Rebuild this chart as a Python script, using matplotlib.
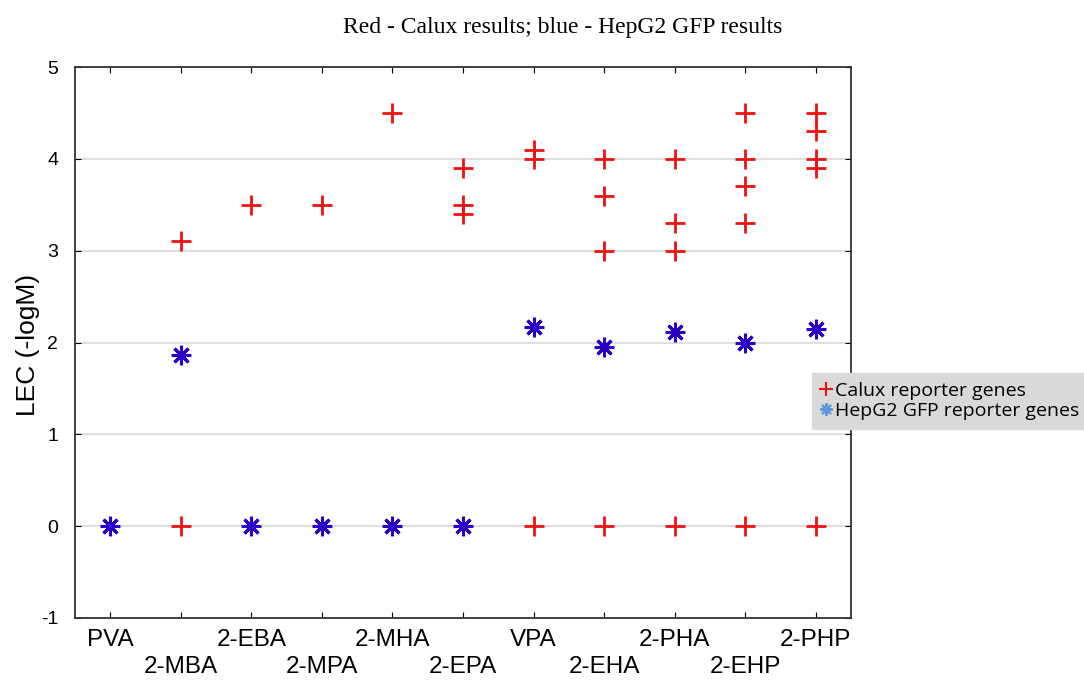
import numpy as np
import matplotlib
matplotlib.use("Agg")
import matplotlib.pyplot as plt
from matplotlib.lines import Line2D

plt.rcParams['axes.unicode_minus'] = False

#=========================================================================================
compounds = ['PVA', '2-MBA', '2-EBA', '2-MPA', '2-MHA', '2-EPA',
             'VPA', '2-EHA', '2-PHA', '2-EHP', '2-PHP']

# Calux results (red), one list per compound
calux = [
    [],
    [3.1, 0],
    [3.5],
    [3.5],
    [4.5],
    [3.9, 3.5, 3.4],
    [4.1, 4.0, 0],
    [4.0, 3.6, 3.0, 0],
    [4.0, 3.3, 3.0, 0],
    [4.5, 4.0, 3.7, 3.3, 0],
    [4.5, 4.3, 4.0, 3.9, 0],
]

# HepG2 GFP results (blue)
hepg2 = [
    [0],
    [1.86],
    [0],
    [0],
    [0],
    [0],
    [2.17],
    [1.95],
    [2.11],
    [2.0],
    [2.15],
]

#=========================================================================================
fig = plt.figure(figsize=(10.84, 6.81), dpi=100)
ax = fig.add_axes([75/1084, 1 - 618/681, (851-75)/1084, (618-67)/681])

red = '#ee1111'
blue = '#2a00c8'
asterisk = (8, 2, 0)

for i in range(len(compounds)):
    ax.plot([i]*len(calux[i]), calux[i], linestyle='none', marker='+',
            markersize=15, markeredgewidth=2, color=red, zorder=3)
    ax.plot([i]*len(hepg2[i]), hepg2[i], linestyle='none', marker=asterisk,
            markersize=14, markeredgewidth=2.2, color=blue, zorder=3)

ax.set_xlim(-0.5, len(compounds) - 0.5)
ax.set_ylim(-1, 5)
ax.set_yticks(np.arange(-1, 6, 1))
ax.yaxis.grid(True, color='#d9d9d9', linewidth=1.2)
ax.set_axisbelow(True)

ax.set_xticks(range(len(compounds)))
labels = [c if i % 2 == 0 else '\n' + c for i, c in enumerate(compounds)]
ax.set_xticklabels(labels, fontsize=17.5, family='Liberation Sans', linespacing=1.3)
ax.tick_params(axis='x', direction='in', top=True, length=4, pad=8)
ax.tick_params(axis='y', direction='in', right=True, length=4, pad=12,
               labelsize=14)
for lab in ax.get_yticklabels():
    lab.set_family('Liberation Sans')
for sp in ax.spines.values():
    sp.set_color('#333333')
    sp.set_linewidth(1.3)

fig.text(28/1084, 1 - 345/681, 'LEC (-logM)', rotation=90, ha='center', va='center',
         fontsize=19, family='Liberation Sans')

fig.text(563/1084, 1 - 27/681, 'Red - Calux results; blue - HepG2 GFP results',
         ha='center', va='center', fontsize=17, family='Liberation Serif')

handles = [
    Line2D([], [], linestyle='none', marker='+', color=red, markersize=10, markeredgewidth=1.5),
    Line2D([], [], linestyle='none', marker=asterisk, color='#5b9bd5', markersize=9, markeredgewidth=1.5),
]
leg = fig.legend(handles, ['Calux reporter genes', 'HepG2 GFP reporter genes'],
                 loc='upper left', bbox_to_anchor=(812/1084, 1 - 373/681),
                 frameon=True, fancybox=False, borderpad=0.45, handlelength=0.5,
                 handletextpad=0.25, labelspacing=0.12, borderaxespad=0,
                 prop={'family': 'Open Sans', 'size': 14})
leg.get_frame().set_facecolor('#d9d9d9')
leg.get_frame().set_edgecolor('#d9d9d9')
leg.get_frame().set_alpha(1)

fig.savefig('out.png', dpi=100)
